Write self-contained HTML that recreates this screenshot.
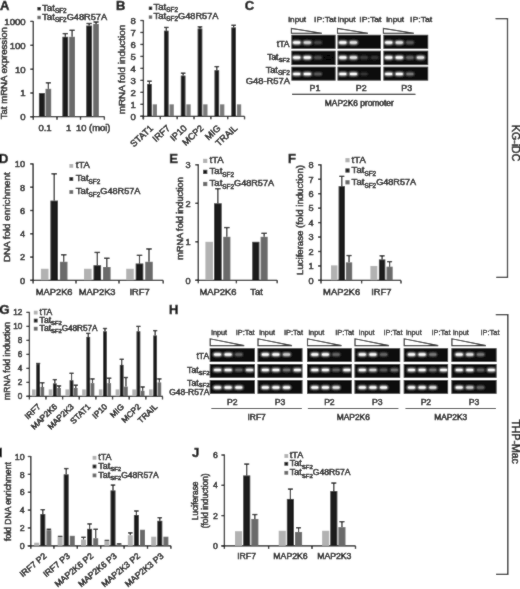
<!DOCTYPE html><html><head><meta charset="utf-8"><style>html,body{margin:0;padding:0;background:#fff;}svg{display:block;will-change:transform;} text{stroke:#111;stroke-width:0.5px;}</style></head><body>
<svg width="520" height="589" viewBox="0 0 520 589" font-family="Liberation Sans, sans-serif">
<defs><filter id="glow" x="-50%" y="-80%" width="200%" height="260%"><feGaussianBlur stdDeviation="0.85"/></filter><filter id="soft" x="0" y="0" width="520" height="589" filterUnits="userSpaceOnUse"><feConvolveMatrix order="3" kernelMatrix="1 2 1 2 24 2 1 2 1" divisor="36" edgeMode="duplicate"/></filter></defs>
<g filter="url(#soft)">
<rect width="520" height="589" fill="#fff"/>
<text x="0.0" y="9.5" font-size="13" text-anchor="start" font-weight="bold" fill="#111">A</text>
<rect x="37.40" y="7.00" width="3.40" height="3.40" fill="#1d1d1d"/>
<text x="42.0" y="10.7" font-size="9.7" text-anchor="start" fill="#111">Tat<tspan font-size="6.4" dy="2.13">SF2</tspan></text>
<rect x="37.40" y="15.80" width="3.40" height="3.40" fill="#6b6b6b"/>
<text x="42.0" y="19.5" font-size="9.7" text-anchor="start" fill="#111">Tat<tspan font-size="6.4" dy="2.13">SF2</tspan><tspan dy="-2.13" font-size="9.21">G48R57A</tspan></text>
<line x1="33.30" y1="20.90" x2="33.30" y2="116.70" stroke="#000" stroke-width="1.3"/>
<line x1="30.30" y1="21.40" x2="33.30" y2="21.40" stroke="#000" stroke-width="1.3"/>
<text x="25.699999999999996" y="24.855999999999998" font-size="9.6" text-anchor="end" fill="#111">1000</text>
<line x1="30.30" y1="45.30" x2="33.30" y2="45.30" stroke="#000" stroke-width="1.3"/>
<text x="25.699999999999996" y="48.756" font-size="9.6" text-anchor="end" fill="#111">100</text>
<line x1="30.30" y1="69.20" x2="33.30" y2="69.20" stroke="#000" stroke-width="1.3"/>
<text x="25.699999999999996" y="72.656" font-size="9.6" text-anchor="end" fill="#111">10</text>
<line x1="30.30" y1="93.00" x2="33.30" y2="93.00" stroke="#000" stroke-width="1.3"/>
<text x="25.699999999999996" y="96.456" font-size="9.6" text-anchor="end" fill="#111">1</text>
<line x1="30.30" y1="116.70" x2="33.30" y2="116.70" stroke="#000" stroke-width="1.3"/>
<text x="25.699999999999996" y="120.156" font-size="9.6" text-anchor="end" fill="#111">0</text>
<line x1="30.30" y1="116.70" x2="104.40" y2="116.70" stroke="#000" stroke-width="1.3"/>
<line x1="33.30" y1="116.70" x2="33.30" y2="119.70" stroke="#000" stroke-width="1.3"/>
<line x1="57.00" y1="116.70" x2="57.00" y2="119.70" stroke="#000" stroke-width="1.3"/>
<line x1="80.50" y1="116.70" x2="80.50" y2="119.70" stroke="#000" stroke-width="1.3"/>
<line x1="104.40" y1="116.70" x2="104.40" y2="119.70" stroke="#000" stroke-width="1.3"/>
<text x="7.3" y="73.2" font-size="9.6" text-anchor="middle" transform="rotate(-90 7.3 73.2)" fill="#111">Tat mRNA expression</text>
<rect x="38.90" y="93.00" width="5.90" height="23.70" fill="#1d1d1d"/>
<line x1="48.35" y1="88.80" x2="48.35" y2="82.80" stroke="#000" stroke-width="1.15"/>
<line x1="45.78" y1="82.80" x2="50.92" y2="82.80" stroke="#000" stroke-width="1.3224999999999998"/>
<rect x="45.50" y="88.80" width="5.70" height="27.90" fill="#6b6b6b"/>
<line x1="65.30" y1="36.80" x2="65.30" y2="33.60" stroke="#000" stroke-width="1.15"/>
<line x1="62.69" y1="33.60" x2="67.91" y2="33.60" stroke="#000" stroke-width="1.3224999999999998"/>
<rect x="62.40" y="36.80" width="5.80" height="79.90" fill="#1d1d1d"/>
<line x1="72.10" y1="36.80" x2="72.10" y2="30.30" stroke="#000" stroke-width="1.15"/>
<line x1="69.49" y1="30.30" x2="74.71" y2="30.30" stroke="#000" stroke-width="1.3224999999999998"/>
<rect x="69.20" y="36.80" width="5.80" height="79.90" fill="#6b6b6b"/>
<line x1="89.15" y1="25.60" x2="89.15" y2="23.50" stroke="#000" stroke-width="1.15"/>
<line x1="86.50" y1="23.50" x2="91.81" y2="23.50" stroke="#000" stroke-width="1.3224999999999998"/>
<rect x="86.20" y="25.60" width="5.90" height="91.10" fill="#1d1d1d"/>
<line x1="96.05" y1="23.90" x2="96.05" y2="22.00" stroke="#000" stroke-width="1.15"/>
<line x1="93.49" y1="22.00" x2="98.62" y2="22.00" stroke="#000" stroke-width="1.3224999999999998"/>
<rect x="93.20" y="23.90" width="5.70" height="92.80" fill="#6b6b6b"/>
<text x="45.0" y="131.4" font-size="9.5" text-anchor="middle" fill="#111">0.1</text>
<text x="68.6" y="131.4" font-size="9.5" text-anchor="middle" fill="#111">1</text>
<text x="76.0" y="131.4" font-size="9.4" text-anchor="start" fill="#111">10 (moi)</text>
<text x="116.0" y="9.5" font-size="13" text-anchor="start" font-weight="bold" fill="#111">B</text>
<rect x="148.80" y="6.60" width="3.40" height="3.40" fill="#1d1d1d"/>
<text x="153.4" y="10.3" font-size="9.7" text-anchor="start" fill="#111">Tat<tspan font-size="6.4" dy="2.13">SF2</tspan></text>
<rect x="148.80" y="15.40" width="3.40" height="3.40" fill="#6b6b6b"/>
<text x="153.4" y="19.1" font-size="9.7" text-anchor="start" fill="#111">Tat<tspan font-size="6.4" dy="2.13">SF2</tspan><tspan dy="-2.13" font-size="9.21">G48R57A</tspan></text>
<line x1="143.40" y1="20.00" x2="143.40" y2="116.30" stroke="#000" stroke-width="1.3"/>
<line x1="140.40" y1="20.50" x2="143.40" y2="20.50" stroke="#000" stroke-width="1.3"/>
<text x="135.8" y="23.956" font-size="9.6" text-anchor="end" fill="#111">8</text>
<line x1="140.40" y1="32.47" x2="143.40" y2="32.47" stroke="#000" stroke-width="1.3"/>
<text x="135.8" y="35.931" font-size="9.6" text-anchor="end" fill="#111">7</text>
<line x1="140.40" y1="44.45" x2="143.40" y2="44.45" stroke="#000" stroke-width="1.3"/>
<text x="135.8" y="47.906000000000006" font-size="9.6" text-anchor="end" fill="#111">6</text>
<line x1="140.40" y1="56.42" x2="143.40" y2="56.42" stroke="#000" stroke-width="1.3"/>
<text x="135.8" y="59.881" font-size="9.6" text-anchor="end" fill="#111">5</text>
<line x1="140.40" y1="68.40" x2="143.40" y2="68.40" stroke="#000" stroke-width="1.3"/>
<text x="135.8" y="71.85600000000001" font-size="9.6" text-anchor="end" fill="#111">4</text>
<line x1="140.40" y1="80.38" x2="143.40" y2="80.38" stroke="#000" stroke-width="1.3"/>
<text x="135.8" y="83.831" font-size="9.6" text-anchor="end" fill="#111">3</text>
<line x1="140.40" y1="92.35" x2="143.40" y2="92.35" stroke="#000" stroke-width="1.3"/>
<text x="135.8" y="95.806" font-size="9.6" text-anchor="end" fill="#111">2</text>
<line x1="140.40" y1="104.33" x2="143.40" y2="104.33" stroke="#000" stroke-width="1.3"/>
<text x="135.8" y="107.781" font-size="9.6" text-anchor="end" fill="#111">1</text>
<line x1="140.40" y1="116.30" x2="143.40" y2="116.30" stroke="#000" stroke-width="1.3"/>
<text x="135.8" y="119.756" font-size="9.6" text-anchor="end" fill="#111">0</text>
<line x1="140.20" y1="116.30" x2="244.50" y2="116.30" stroke="#000" stroke-width="1.3"/>
<line x1="143.20" y1="116.30" x2="143.20" y2="119.30" stroke="#000" stroke-width="1.3"/>
<line x1="143.50" y1="116.30" x2="143.50" y2="119.30" stroke="#000" stroke-width="1.3"/>
<line x1="160.34" y1="116.30" x2="160.34" y2="119.30" stroke="#000" stroke-width="1.3"/>
<line x1="177.18" y1="116.30" x2="177.18" y2="119.30" stroke="#000" stroke-width="1.3"/>
<line x1="194.02" y1="116.30" x2="194.02" y2="119.30" stroke="#000" stroke-width="1.3"/>
<line x1="210.86" y1="116.30" x2="210.86" y2="119.30" stroke="#000" stroke-width="1.3"/>
<line x1="227.70" y1="116.30" x2="227.70" y2="119.30" stroke="#000" stroke-width="1.3"/>
<line x1="244.54" y1="116.30" x2="244.54" y2="119.30" stroke="#000" stroke-width="1.3"/>
<text x="125.3" y="69.5" font-size="9.9" text-anchor="middle" transform="rotate(-90 125.3 69.5)" fill="#111">mRNA fold induction</text>
<line x1="149.45" y1="83.97" x2="149.45" y2="81.21" stroke="#000" stroke-width="1.15"/>
<line x1="147.15" y1="81.21" x2="151.75" y2="81.21" stroke="#000" stroke-width="1.3224999999999998"/>
<rect x="147.10" y="83.97" width="4.70" height="32.33" fill="#1d1d1d"/>
<rect x="152.70" y="104.33" width="4.30" height="11.97" fill="#7a7a7a"/>
<text x="153.79999999999998" y="128.9" font-size="9.2" text-anchor="end" transform="rotate(-43 153.79999999999998 128.9)" fill="#111">STAT1</text>
<line x1="166.29" y1="30.68" x2="166.29" y2="27.45" stroke="#000" stroke-width="1.15"/>
<line x1="163.99" y1="27.45" x2="168.59" y2="27.45" stroke="#000" stroke-width="1.3224999999999998"/>
<rect x="163.94" y="30.68" width="4.70" height="85.62" fill="#1d1d1d"/>
<rect x="169.54" y="104.33" width="4.30" height="11.97" fill="#7a7a7a"/>
<text x="170.64" y="128.9" font-size="9.2" text-anchor="end" transform="rotate(-43 170.64 128.9)" fill="#111">IRF7</text>
<line x1="183.13" y1="75.59" x2="183.13" y2="73.19" stroke="#000" stroke-width="1.15"/>
<line x1="180.83" y1="73.19" x2="185.43" y2="73.19" stroke="#000" stroke-width="1.3224999999999998"/>
<rect x="180.78" y="75.59" width="4.70" height="40.71" fill="#1d1d1d"/>
<rect x="186.38" y="104.33" width="4.30" height="11.97" fill="#7a7a7a"/>
<text x="187.48" y="128.9" font-size="9.2" text-anchor="end" transform="rotate(-43 187.48 128.9)" fill="#111">IP10</text>
<line x1="199.97" y1="28.52" x2="199.97" y2="26.85" stroke="#000" stroke-width="1.15"/>
<line x1="197.67" y1="26.85" x2="202.27" y2="26.85" stroke="#000" stroke-width="1.3224999999999998"/>
<rect x="197.62" y="28.52" width="4.70" height="87.78" fill="#1d1d1d"/>
<rect x="203.22" y="104.33" width="4.30" height="11.97" fill="#7a7a7a"/>
<text x="204.32" y="128.9" font-size="9.2" text-anchor="end" transform="rotate(-43 204.32 128.9)" fill="#111">MCP2</text>
<line x1="216.81" y1="70.20" x2="216.81" y2="66.60" stroke="#000" stroke-width="1.15"/>
<line x1="214.51" y1="66.60" x2="219.11" y2="66.60" stroke="#000" stroke-width="1.3224999999999998"/>
<rect x="214.46" y="70.20" width="4.70" height="46.10" fill="#1d1d1d"/>
<rect x="220.06" y="104.33" width="4.30" height="11.97" fill="#7a7a7a"/>
<text x="221.15999999999997" y="128.9" font-size="9.2" text-anchor="end" transform="rotate(-43 221.15999999999997 128.9)" fill="#111">MIG</text>
<line x1="233.65" y1="27.45" x2="233.65" y2="25.29" stroke="#000" stroke-width="1.15"/>
<line x1="231.35" y1="25.29" x2="235.95" y2="25.29" stroke="#000" stroke-width="1.3224999999999998"/>
<rect x="231.30" y="27.45" width="4.70" height="88.85" fill="#1d1d1d"/>
<rect x="236.90" y="104.33" width="4.30" height="11.97" fill="#7a7a7a"/>
<text x="238.0" y="128.9" font-size="9.2" text-anchor="end" transform="rotate(-43 238.0 128.9)" fill="#111">TRAIL</text>
<text x="244.8" y="9.8" font-size="13" text-anchor="start" font-weight="bold" fill="#111">C</text>
<rect x="291.40" y="34.80" width="44.20" height="14.00" fill="#0b0b0b"/>
<rect x="292.30" y="40.80" width="8.80" height="3.60" rx="1.80" fill="rgb(255,255,255)" filter="url(#glow)"/>
<rect x="293.18" y="41.61" width="7.04" height="1.98" rx="0.99" fill="rgb(255,255,255)" opacity="0.9"/>
<rect x="302.90" y="40.80" width="8.80" height="3.60" rx="1.80" fill="rgb(216,216,216)" filter="url(#glow)"/>
<rect x="303.78" y="41.61" width="7.04" height="1.98" rx="0.99" fill="rgb(216,216,216)" opacity="0.9"/>
<rect x="313.50" y="40.80" width="8.80" height="3.60" rx="1.80" fill="rgb(71,71,71)" filter="url(#glow)"/>
<rect x="314.38" y="41.61" width="7.04" height="1.98" rx="0.99" fill="rgb(71,71,71)" opacity="0.9"/>
<rect x="291.40" y="50.70" width="44.20" height="14.40" fill="#0b0b0b"/>
<rect x="292.30" y="55.80" width="8.80" height="3.60" rx="1.80" fill="rgb(255,255,255)" filter="url(#glow)"/>
<rect x="293.18" y="56.61" width="7.04" height="1.98" rx="0.99" fill="rgb(255,255,255)" opacity="0.9"/>
<rect x="302.90" y="55.80" width="8.80" height="3.60" rx="1.80" fill="rgb(255,255,255)" filter="url(#glow)"/>
<rect x="303.78" y="56.61" width="7.04" height="1.98" rx="0.99" fill="rgb(255,255,255)" opacity="0.9"/>
<rect x="313.50" y="55.80" width="8.80" height="3.60" rx="1.80" fill="rgb(81,81,81)" filter="url(#glow)"/>
<rect x="314.38" y="56.61" width="7.04" height="1.98" rx="0.99" fill="rgb(81,81,81)" opacity="0.9"/>
<rect x="324.10" y="55.80" width="8.80" height="3.60" rx="1.80" fill="rgb(12,12,12)" filter="url(#glow)"/>
<rect x="324.98" y="56.61" width="7.04" height="1.98" rx="0.99" fill="rgb(12,12,12)" opacity="0.9"/>
<rect x="291.40" y="66.70" width="44.20" height="13.90" fill="#0b0b0b"/>
<rect x="292.30" y="72.25" width="8.80" height="3.60" rx="1.80" fill="rgb(255,255,255)" filter="url(#glow)"/>
<rect x="293.18" y="73.06" width="7.04" height="1.98" rx="0.99" fill="rgb(255,255,255)" opacity="0.9"/>
<rect x="302.90" y="72.25" width="8.80" height="3.60" rx="1.80" fill="rgb(255,255,255)" filter="url(#glow)"/>
<rect x="303.78" y="73.06" width="7.04" height="1.98" rx="0.99" fill="rgb(255,255,255)" opacity="0.9"/>
<rect x="313.50" y="72.25" width="8.80" height="3.60" rx="1.80" fill="rgb(91,91,91)" filter="url(#glow)"/>
<rect x="314.38" y="73.06" width="7.04" height="1.98" rx="0.99" fill="rgb(91,91,91)" opacity="0.9"/>
<polygon points="291.40,28.50 291.40,33.20 321.90,33.20" fill="#fff" stroke="#111" stroke-width="1.1" stroke-linejoin="miter"/>
<text x="288.3" y="22.4" font-size="7.6" text-anchor="start" textLength="17.8" lengthAdjust="spacingAndGlyphs" fill="#111" style="stroke-width:0.38px">input</text>
<text x="336.3" y="22.4" font-size="7.6" text-anchor="end" textLength="22.2" lengthAdjust="spacingAndGlyphs" fill="#111" style="stroke-width:0.38px">IP:Tat</text>
<rect x="337.50" y="34.80" width="43.50" height="14.00" fill="#0b0b0b"/>
<rect x="338.40" y="40.80" width="8.80" height="3.60" rx="1.80" fill="rgb(255,255,255)" filter="url(#glow)"/>
<rect x="339.28" y="41.61" width="7.04" height="1.98" rx="0.99" fill="rgb(255,255,255)" opacity="0.9"/>
<rect x="349.00" y="40.80" width="8.80" height="3.60" rx="1.80" fill="rgb(229,229,229)" filter="url(#glow)"/>
<rect x="349.88" y="41.61" width="7.04" height="1.98" rx="0.99" fill="rgb(229,229,229)" opacity="0.9"/>
<rect x="337.50" y="50.70" width="43.50" height="14.40" fill="#0b0b0b"/>
<rect x="338.40" y="55.80" width="8.80" height="3.60" rx="1.80" fill="rgb(255,255,255)" filter="url(#glow)"/>
<rect x="339.28" y="56.61" width="7.04" height="1.98" rx="0.99" fill="rgb(255,255,255)" opacity="0.9"/>
<rect x="349.00" y="55.80" width="8.80" height="3.60" rx="1.80" fill="rgb(229,229,229)" filter="url(#glow)"/>
<rect x="349.88" y="56.61" width="7.04" height="1.98" rx="0.99" fill="rgb(229,229,229)" opacity="0.9"/>
<rect x="359.60" y="55.80" width="8.80" height="3.60" rx="1.80" fill="rgb(61,61,61)" filter="url(#glow)"/>
<rect x="360.48" y="56.61" width="7.04" height="1.98" rx="0.99" fill="rgb(61,61,61)" opacity="0.9"/>
<rect x="370.20" y="55.80" width="8.80" height="3.60" rx="1.80" fill="rgb(51,51,51)" filter="url(#glow)"/>
<rect x="371.08" y="56.61" width="7.04" height="1.98" rx="0.99" fill="rgb(51,51,51)" opacity="0.9"/>
<rect x="337.50" y="66.70" width="43.50" height="13.90" fill="#0b0b0b"/>
<rect x="338.40" y="72.25" width="8.80" height="3.60" rx="1.80" fill="rgb(255,255,255)" filter="url(#glow)"/>
<rect x="339.28" y="73.06" width="7.04" height="1.98" rx="0.99" fill="rgb(255,255,255)" opacity="0.9"/>
<rect x="349.00" y="72.25" width="8.80" height="3.60" rx="1.80" fill="rgb(255,255,255)" filter="url(#glow)"/>
<rect x="349.88" y="73.06" width="7.04" height="1.98" rx="0.99" fill="rgb(255,255,255)" opacity="0.9"/>
<rect x="359.60" y="72.25" width="8.80" height="3.60" rx="1.80" fill="rgb(51,51,51)" filter="url(#glow)"/>
<rect x="360.48" y="73.06" width="7.04" height="1.98" rx="0.99" fill="rgb(51,51,51)" opacity="0.9"/>
<polygon points="337.50,28.50 337.50,33.20 368.00,33.20" fill="#fff" stroke="#111" stroke-width="1.1" stroke-linejoin="miter"/>
<text x="337.8" y="22.4" font-size="7.6" text-anchor="start" textLength="17.8" lengthAdjust="spacingAndGlyphs" fill="#111" style="stroke-width:0.38px">input</text>
<text x="381.5" y="22.4" font-size="7.6" text-anchor="end" textLength="22.2" lengthAdjust="spacingAndGlyphs" fill="#111" style="stroke-width:0.38px">IP:Tat</text>
<rect x="383.40" y="34.80" width="44.80" height="14.00" fill="#0b0b0b"/>
<rect x="384.30" y="40.80" width="8.80" height="3.60" rx="1.80" fill="rgb(255,255,255)" filter="url(#glow)"/>
<rect x="385.18" y="41.61" width="7.04" height="1.98" rx="0.99" fill="rgb(255,255,255)" opacity="0.9"/>
<rect x="394.90" y="40.80" width="8.80" height="3.60" rx="1.80" fill="rgb(229,229,229)" filter="url(#glow)"/>
<rect x="395.78" y="41.61" width="7.04" height="1.98" rx="0.99" fill="rgb(229,229,229)" opacity="0.9"/>
<rect x="405.50" y="40.80" width="8.80" height="3.60" rx="1.80" fill="rgb(91,91,91)" filter="url(#glow)"/>
<rect x="406.38" y="41.61" width="7.04" height="1.98" rx="0.99" fill="rgb(91,91,91)" opacity="0.9"/>
<rect x="383.40" y="50.70" width="44.80" height="14.40" fill="#0b0b0b"/>
<rect x="384.30" y="55.80" width="8.80" height="3.60" rx="1.80" fill="rgb(255,255,255)" filter="url(#glow)"/>
<rect x="385.18" y="56.61" width="7.04" height="1.98" rx="0.99" fill="rgb(255,255,255)" opacity="0.9"/>
<rect x="394.90" y="55.80" width="8.80" height="3.60" rx="1.80" fill="rgb(255,255,255)" filter="url(#glow)"/>
<rect x="395.78" y="56.61" width="7.04" height="1.98" rx="0.99" fill="rgb(255,255,255)" opacity="0.9"/>
<rect x="405.50" y="55.80" width="8.80" height="3.60" rx="1.80" fill="rgb(102,102,102)" filter="url(#glow)"/>
<rect x="406.38" y="56.61" width="7.04" height="1.98" rx="0.99" fill="rgb(102,102,102)" opacity="0.9"/>
<rect x="416.10" y="55.80" width="8.80" height="3.60" rx="1.80" fill="rgb(229,229,229)" filter="url(#glow)"/>
<rect x="416.98" y="56.61" width="7.04" height="1.98" rx="0.99" fill="rgb(229,229,229)" opacity="0.9"/>
<rect x="383.40" y="66.70" width="44.80" height="13.90" fill="#0b0b0b"/>
<rect x="384.30" y="72.25" width="8.80" height="3.60" rx="1.80" fill="rgb(255,255,255)" filter="url(#glow)"/>
<rect x="385.18" y="73.06" width="7.04" height="1.98" rx="0.99" fill="rgb(255,255,255)" opacity="0.9"/>
<rect x="394.90" y="72.25" width="8.80" height="3.60" rx="1.80" fill="rgb(255,255,255)" filter="url(#glow)"/>
<rect x="395.78" y="73.06" width="7.04" height="1.98" rx="0.99" fill="rgb(255,255,255)" opacity="0.9"/>
<rect x="405.50" y="72.25" width="8.80" height="3.60" rx="1.80" fill="rgb(122,122,122)" filter="url(#glow)"/>
<rect x="406.38" y="73.06" width="7.04" height="1.98" rx="0.99" fill="rgb(122,122,122)" opacity="0.9"/>
<polygon points="383.40,28.50 383.40,33.20 413.90,33.20" fill="#fff" stroke="#111" stroke-width="1.1" stroke-linejoin="miter"/>
<text x="386.3" y="22.4" font-size="7.6" text-anchor="start" textLength="17.8" lengthAdjust="spacingAndGlyphs" fill="#111" style="stroke-width:0.38px">input</text>
<text x="432.3" y="22.4" font-size="7.6" text-anchor="end" textLength="22.2" lengthAdjust="spacingAndGlyphs" fill="#111" style="stroke-width:0.38px">IP:Tat</text>
<text x="315.0" y="91.0" font-size="8.8" text-anchor="middle" fill="#111">P1</text>
<text x="361.2" y="91.0" font-size="8.8" text-anchor="middle" fill="#111">P2</text>
<text x="406.7" y="91.0" font-size="8.8" text-anchor="middle" fill="#111">P3</text>
<line x1="292.00" y1="94.40" x2="415.40" y2="94.40" stroke="#000" stroke-width="1.1"/>
<text x="359.3" y="105.9" font-size="8.2" text-anchor="middle" textLength="69.0" lengthAdjust="spacingAndGlyphs" fill="#111">MAP2K6 promoter</text>
<text x="289.6" y="46.6" font-size="8.6" text-anchor="end" fill="#111">tTA</text>
<text x="289.8" y="59.5" font-size="8.4" text-anchor="end" fill="#111">Tat<tspan font-size="6.2" dy="2.02">SF2</tspan></text>
<text x="290.0" y="72.5" font-size="9.2" text-anchor="end" fill="#111">Tat<tspan font-size="6.6" dy="2.21">SF2</tspan></text>
<text x="290.0" y="83.7" font-size="9.4" text-anchor="end" fill="#111">G48-R57A</text>
<text x="-0.9" y="162.6" font-size="13" text-anchor="start" font-weight="bold" fill="#111">D</text>
<line x1="33.10" y1="163.40" x2="33.10" y2="280.40" stroke="#000" stroke-width="1.3"/>
<line x1="30.10" y1="163.90" x2="33.10" y2="163.90" stroke="#000" stroke-width="1.3"/>
<text x="25.1" y="167.212" font-size="9.2" text-anchor="end" fill="#111">10</text>
<line x1="30.10" y1="187.20" x2="33.10" y2="187.20" stroke="#000" stroke-width="1.3"/>
<text x="25.1" y="190.512" font-size="9.2" text-anchor="end" fill="#111">8</text>
<line x1="30.10" y1="210.50" x2="33.10" y2="210.50" stroke="#000" stroke-width="1.3"/>
<text x="25.1" y="213.81199999999998" font-size="9.2" text-anchor="end" fill="#111">6</text>
<line x1="30.10" y1="233.80" x2="33.10" y2="233.80" stroke="#000" stroke-width="1.3"/>
<text x="25.1" y="237.112" font-size="9.2" text-anchor="end" fill="#111">4</text>
<line x1="30.10" y1="257.10" x2="33.10" y2="257.10" stroke="#000" stroke-width="1.3"/>
<text x="25.1" y="260.412" font-size="9.2" text-anchor="end" fill="#111">2</text>
<line x1="30.10" y1="280.40" x2="33.10" y2="280.40" stroke="#000" stroke-width="1.3"/>
<text x="25.1" y="283.712" font-size="9.2" text-anchor="end" fill="#111">0</text>
<line x1="30.10" y1="280.40" x2="163.20" y2="280.40" stroke="#000" stroke-width="1.3"/>
<line x1="33.10" y1="280.40" x2="33.10" y2="283.40" stroke="#000" stroke-width="1.3"/>
<line x1="76.00" y1="280.40" x2="76.00" y2="283.40" stroke="#000" stroke-width="1.3"/>
<line x1="119.00" y1="280.40" x2="119.00" y2="283.40" stroke="#000" stroke-width="1.3"/>
<line x1="163.20" y1="280.40" x2="163.20" y2="283.40" stroke="#000" stroke-width="1.3"/>
<text x="9.9" y="217.2" font-size="9.8" text-anchor="middle" transform="rotate(-90 9.9 217.2)" fill="#111">DNA fold enrichment</text>
<rect x="40.90" y="268.75" width="7.60" height="11.65" fill="#b2b2b2"/>
<line x1="54.20" y1="200.60" x2="54.20" y2="173.80" stroke="#000" stroke-width="1.15"/>
<line x1="51.45" y1="173.80" x2="56.95" y2="173.80" stroke="#000" stroke-width="1.3224999999999998"/>
<rect x="50.40" y="200.60" width="7.60" height="79.80" fill="#1d1d1d"/>
<line x1="63.70" y1="261.76" x2="63.70" y2="254.77" stroke="#000" stroke-width="1.15"/>
<line x1="60.95" y1="254.77" x2="66.45" y2="254.77" stroke="#000" stroke-width="1.3224999999999998"/>
<rect x="59.90" y="261.76" width="7.60" height="18.64" fill="#6b6b6b"/>
<rect x="84.00" y="268.75" width="7.60" height="11.65" fill="#b2b2b2"/>
<line x1="97.30" y1="265.25" x2="97.30" y2="252.44" stroke="#000" stroke-width="1.15"/>
<line x1="94.55" y1="252.44" x2="100.05" y2="252.44" stroke="#000" stroke-width="1.3224999999999998"/>
<rect x="93.50" y="265.25" width="7.60" height="15.14" fill="#1d1d1d"/>
<line x1="106.80" y1="267.00" x2="106.80" y2="258.26" stroke="#000" stroke-width="1.15"/>
<line x1="104.05" y1="258.26" x2="109.55" y2="258.26" stroke="#000" stroke-width="1.3224999999999998"/>
<rect x="103.00" y="267.00" width="7.60" height="13.40" fill="#6b6b6b"/>
<rect x="126.20" y="268.75" width="7.60" height="11.65" fill="#b2b2b2"/>
<line x1="139.50" y1="263.51" x2="139.50" y2="255.35" stroke="#000" stroke-width="1.15"/>
<line x1="136.75" y1="255.35" x2="142.25" y2="255.35" stroke="#000" stroke-width="1.3224999999999998"/>
<rect x="135.70" y="263.51" width="7.60" height="16.89" fill="#1d1d1d"/>
<line x1="149.00" y1="261.76" x2="149.00" y2="248.94" stroke="#000" stroke-width="1.15"/>
<line x1="146.25" y1="248.94" x2="151.75" y2="248.94" stroke="#000" stroke-width="1.3224999999999998"/>
<rect x="145.20" y="261.76" width="7.60" height="18.64" fill="#6b6b6b"/>
<text x="54.2" y="294.6" font-size="9.3" text-anchor="middle" fill="#111">MAP2K6</text>
<text x="97.2" y="294.6" font-size="9.3" text-anchor="middle" fill="#111">MAP2K3</text>
<text x="139.6" y="294.6" font-size="9.3" text-anchor="middle" fill="#111">IRF7</text>
<rect x="69.40" y="164.00" width="3.80" height="3.80" fill="#b2b2b2"/>
<text x="75.8" y="168.1" font-size="9.6" text-anchor="start" fill="#111">tTA</text>
<rect x="69.40" y="177.10" width="3.80" height="3.80" fill="#1d1d1d"/>
<text x="75.8" y="181.2" font-size="9.6" text-anchor="start" fill="#111">Tat<tspan font-size="6.4" dy="2.88">SF2</tspan></text>
<rect x="69.40" y="190.10" width="3.80" height="3.80" fill="#6b6b6b"/>
<text x="75.8" y="194.2" font-size="9.6" text-anchor="start" fill="#111">Tat<tspan font-size="6.4" dy="2.88">SF2</tspan><tspan dy="-2.88" font-size="9.12">G48R57A</tspan></text>
<text x="169.3" y="163.2" font-size="13" text-anchor="start" font-weight="bold" fill="#111">E</text>
<line x1="198.30" y1="164.30" x2="198.30" y2="280.30" stroke="#000" stroke-width="1.3"/>
<line x1="195.30" y1="164.80" x2="198.30" y2="164.80" stroke="#000" stroke-width="1.3"/>
<text x="190.60000000000002" y="168.11200000000002" font-size="9.2" text-anchor="end" fill="#111">3</text>
<line x1="195.30" y1="203.30" x2="198.30" y2="203.30" stroke="#000" stroke-width="1.3"/>
<text x="190.60000000000002" y="206.61200000000002" font-size="9.2" text-anchor="end" fill="#111">2</text>
<line x1="195.30" y1="241.80" x2="198.30" y2="241.80" stroke="#000" stroke-width="1.3"/>
<text x="190.60000000000002" y="245.11200000000002" font-size="9.2" text-anchor="end" fill="#111">1</text>
<line x1="195.30" y1="280.30" x2="198.30" y2="280.30" stroke="#000" stroke-width="1.3"/>
<text x="190.60000000000002" y="283.612" font-size="9.2" text-anchor="end" fill="#111">0</text>
<line x1="195.30" y1="280.30" x2="277.20" y2="280.30" stroke="#000" stroke-width="1.3"/>
<line x1="198.30" y1="280.30" x2="198.30" y2="283.30" stroke="#000" stroke-width="1.3"/>
<line x1="236.40" y1="280.30" x2="236.40" y2="283.30" stroke="#000" stroke-width="1.3"/>
<line x1="277.20" y1="280.30" x2="277.20" y2="283.30" stroke="#000" stroke-width="1.3"/>
<text x="183.4" y="218.5" font-size="9.1" text-anchor="middle" transform="rotate(-90 183.4 218.5)" fill="#111">mRNA fold induction</text>
<rect x="205.40" y="241.80" width="7.60" height="38.50" fill="#b2b2b2"/>
<line x1="217.85" y1="203.30" x2="217.85" y2="188.67" stroke="#000" stroke-width="1.15"/>
<line x1="215.10" y1="188.67" x2="220.60" y2="188.67" stroke="#000" stroke-width="1.3224999999999998"/>
<rect x="214.00" y="203.30" width="7.70" height="77.00" fill="#1d1d1d"/>
<line x1="226.80" y1="236.80" x2="226.80" y2="227.56" stroke="#000" stroke-width="1.15"/>
<line x1="224.05" y1="227.56" x2="229.55" y2="227.56" stroke="#000" stroke-width="1.3224999999999998"/>
<rect x="223.20" y="236.80" width="7.20" height="43.50" fill="#6b6b6b"/>
<rect x="252.20" y="241.80" width="7.20" height="38.50" fill="#1d1d1d"/>
<line x1="264.15" y1="236.80" x2="264.15" y2="233.33" stroke="#000" stroke-width="1.15"/>
<line x1="261.40" y1="233.33" x2="266.90" y2="233.33" stroke="#000" stroke-width="1.3224999999999998"/>
<rect x="260.60" y="236.80" width="7.10" height="43.50" fill="#6b6b6b"/>
<text x="217.9" y="294.8" font-size="9.4" text-anchor="middle" fill="#111">MAP2K6</text>
<text x="256.5" y="294.8" font-size="9.4" text-anchor="middle" fill="#111">Tat</text>
<rect x="203.10" y="158.80" width="4.20" height="4.20" fill="#b2b2b2"/>
<text x="209.49999999999997" y="163.3" font-size="9.6" text-anchor="start" fill="#111">tTA</text>
<rect x="203.10" y="169.80" width="4.20" height="4.20" fill="#1d1d1d"/>
<text x="209.49999999999997" y="174.3" font-size="9.6" text-anchor="start" fill="#111">Tat<tspan font-size="6.4" dy="2.88">SF2</tspan></text>
<rect x="203.10" y="181.90" width="4.20" height="4.20" fill="#6b6b6b"/>
<text x="209.49999999999997" y="186.4" font-size="9.6" text-anchor="start" fill="#111">Tat<tspan font-size="6.4" dy="2.88">SF2</tspan><tspan dy="-2.88" font-size="9.12">G48R57A</tspan></text>
<text x="287.9" y="162.6" font-size="13" text-anchor="start" font-weight="bold" fill="#111">F</text>
<line x1="321.00" y1="164.30" x2="321.00" y2="280.40" stroke="#000" stroke-width="1.3"/>
<line x1="318.00" y1="164.80" x2="321.00" y2="164.80" stroke="#000" stroke-width="1.3"/>
<text x="313.7" y="168.112" font-size="9.2" text-anchor="end" fill="#111">8</text>
<line x1="318.00" y1="179.25" x2="321.00" y2="179.25" stroke="#000" stroke-width="1.3"/>
<text x="313.7" y="182.562" font-size="9.2" text-anchor="end" fill="#111">7</text>
<line x1="318.00" y1="193.70" x2="321.00" y2="193.70" stroke="#000" stroke-width="1.3"/>
<text x="313.7" y="197.012" font-size="9.2" text-anchor="end" fill="#111">6</text>
<line x1="318.00" y1="208.15" x2="321.00" y2="208.15" stroke="#000" stroke-width="1.3"/>
<text x="313.7" y="211.462" font-size="9.2" text-anchor="end" fill="#111">5</text>
<line x1="318.00" y1="222.60" x2="321.00" y2="222.60" stroke="#000" stroke-width="1.3"/>
<text x="313.7" y="225.91199999999998" font-size="9.2" text-anchor="end" fill="#111">4</text>
<line x1="318.00" y1="237.05" x2="321.00" y2="237.05" stroke="#000" stroke-width="1.3"/>
<text x="313.7" y="240.362" font-size="9.2" text-anchor="end" fill="#111">3</text>
<line x1="318.00" y1="251.50" x2="321.00" y2="251.50" stroke="#000" stroke-width="1.3"/>
<text x="313.7" y="254.81199999999998" font-size="9.2" text-anchor="end" fill="#111">2</text>
<line x1="318.00" y1="265.95" x2="321.00" y2="265.95" stroke="#000" stroke-width="1.3"/>
<text x="313.7" y="269.262" font-size="9.2" text-anchor="end" fill="#111">1</text>
<line x1="318.00" y1="280.40" x2="321.00" y2="280.40" stroke="#000" stroke-width="1.3"/>
<text x="313.7" y="283.712" font-size="9.2" text-anchor="end" fill="#111">0</text>
<line x1="318.00" y1="280.40" x2="401.00" y2="280.40" stroke="#000" stroke-width="1.3"/>
<line x1="321.00" y1="280.40" x2="321.00" y2="283.40" stroke="#000" stroke-width="1.3"/>
<line x1="361.60" y1="280.40" x2="361.60" y2="283.40" stroke="#000" stroke-width="1.3"/>
<line x1="401.00" y1="280.40" x2="401.00" y2="283.40" stroke="#000" stroke-width="1.3"/>
<text x="303.0" y="220" font-size="9.6" text-anchor="middle" transform="rotate(-90 303.0 220)" fill="#111">Luciferase (fold induction)</text>
<rect x="331.00" y="265.37" width="6.40" height="15.03" fill="#b2b2b2"/>
<line x1="341.80" y1="186.19" x2="341.80" y2="176.36" stroke="#000" stroke-width="1.15"/>
<line x1="339.30" y1="176.36" x2="344.30" y2="176.36" stroke="#000" stroke-width="1.3224999999999998"/>
<rect x="338.60" y="186.19" width="6.40" height="94.21" fill="#1d1d1d"/>
<line x1="349.05" y1="262.34" x2="349.05" y2="255.55" stroke="#000" stroke-width="1.15"/>
<line x1="346.55" y1="255.55" x2="351.55" y2="255.55" stroke="#000" stroke-width="1.3224999999999998"/>
<rect x="345.90" y="262.34" width="6.30" height="18.06" fill="#6b6b6b"/>
<rect x="370.40" y="265.95" width="6.90" height="14.45" fill="#b2b2b2"/>
<line x1="382.10" y1="259.45" x2="382.10" y2="255.83" stroke="#000" stroke-width="1.15"/>
<line x1="379.60" y1="255.83" x2="384.60" y2="255.83" stroke="#000" stroke-width="1.3224999999999998"/>
<rect x="378.90" y="259.45" width="6.40" height="20.95" fill="#1d1d1d"/>
<line x1="389.60" y1="266.67" x2="389.60" y2="261.61" stroke="#000" stroke-width="1.15"/>
<line x1="387.10" y1="261.61" x2="392.10" y2="261.61" stroke="#000" stroke-width="1.3224999999999998"/>
<rect x="386.50" y="266.67" width="6.20" height="13.73" fill="#6b6b6b"/>
<text x="341.6" y="294.8" font-size="9.4" text-anchor="middle" fill="#111">MAP2K6</text>
<text x="381.3" y="294.8" font-size="9.4" text-anchor="middle" fill="#111">IRF7</text>
<rect x="345.40" y="158.10" width="4.20" height="4.20" fill="#b2b2b2"/>
<text x="351.59999999999997" y="162.6" font-size="9.6" text-anchor="start" fill="#111">tTA</text>
<rect x="345.40" y="168.40" width="4.20" height="4.20" fill="#1d1d1d"/>
<text x="351.59999999999997" y="172.9" font-size="9.6" text-anchor="start" fill="#111">Tat<tspan font-size="6.4" dy="2.88">SF2</tspan></text>
<rect x="345.40" y="180.20" width="4.20" height="4.20" fill="#6b6b6b"/>
<text x="351.59999999999997" y="184.7" font-size="9.6" text-anchor="start" fill="#111">Tat<tspan font-size="6.4" dy="2.88">SF2</tspan><tspan dy="-2.88" font-size="9.12">G48R57A</tspan></text>
<text x="-0.6" y="313.8" font-size="13" text-anchor="start" font-weight="bold" fill="#111">G</text>
<line x1="29.40" y1="311.90" x2="29.40" y2="396.40" stroke="#000" stroke-width="1.3"/>
<line x1="26.40" y1="312.40" x2="29.40" y2="312.40" stroke="#000" stroke-width="1.3"/>
<text x="22.4" y="315.352" font-size="8.2" text-anchor="end" fill="#111">12</text>
<line x1="26.40" y1="326.40" x2="29.40" y2="326.40" stroke="#000" stroke-width="1.3"/>
<text x="22.4" y="329.352" font-size="8.2" text-anchor="end" fill="#111">10</text>
<line x1="26.40" y1="340.40" x2="29.40" y2="340.40" stroke="#000" stroke-width="1.3"/>
<text x="22.4" y="343.352" font-size="8.2" text-anchor="end" fill="#111">8</text>
<line x1="26.40" y1="354.40" x2="29.40" y2="354.40" stroke="#000" stroke-width="1.3"/>
<text x="22.4" y="357.352" font-size="8.2" text-anchor="end" fill="#111">6</text>
<line x1="26.40" y1="368.40" x2="29.40" y2="368.40" stroke="#000" stroke-width="1.3"/>
<text x="22.4" y="371.352" font-size="8.2" text-anchor="end" fill="#111">4</text>
<line x1="26.40" y1="382.40" x2="29.40" y2="382.40" stroke="#000" stroke-width="1.3"/>
<text x="22.4" y="385.352" font-size="8.2" text-anchor="end" fill="#111">2</text>
<line x1="26.40" y1="396.40" x2="29.40" y2="396.40" stroke="#000" stroke-width="1.3"/>
<text x="22.4" y="399.352" font-size="8.2" text-anchor="end" fill="#111">0</text>
<line x1="26.40" y1="396.40" x2="163.00" y2="396.40" stroke="#000" stroke-width="1.3"/>
<line x1="29.40" y1="396.40" x2="29.40" y2="399.40" stroke="#000" stroke-width="1.3"/>
<line x1="45.95" y1="396.40" x2="45.95" y2="399.40" stroke="#000" stroke-width="1.3"/>
<line x1="62.60" y1="396.40" x2="62.60" y2="399.40" stroke="#000" stroke-width="1.3"/>
<line x1="79.25" y1="396.40" x2="79.25" y2="399.40" stroke="#000" stroke-width="1.3"/>
<line x1="95.90" y1="396.40" x2="95.90" y2="399.40" stroke="#000" stroke-width="1.3"/>
<line x1="112.55" y1="396.40" x2="112.55" y2="399.40" stroke="#000" stroke-width="1.3"/>
<line x1="129.20" y1="396.40" x2="129.20" y2="399.40" stroke="#000" stroke-width="1.3"/>
<line x1="145.85" y1="396.40" x2="145.85" y2="399.40" stroke="#000" stroke-width="1.3"/>
<line x1="162.50" y1="396.40" x2="162.50" y2="399.40" stroke="#000" stroke-width="1.3"/>
<text x="10.2" y="361" font-size="8.6" text-anchor="middle" transform="rotate(-90 10.2 361)" fill="#111">mRNA fold induction</text>
<rect x="32.00" y="389.40" width="3.60" height="7.00" fill="#b2b2b2"/>
<line x1="38.10" y1="364.20" x2="38.10" y2="363.50" stroke="#000" stroke-width="1.15"/>
<line x1="36.00" y1="363.50" x2="40.20" y2="363.50" stroke="#000" stroke-width="1.3224999999999998"/>
<rect x="36.20" y="364.20" width="3.80" height="32.20" fill="#1d1d1d"/>
<line x1="42.35" y1="386.95" x2="42.35" y2="382.75" stroke="#000" stroke-width="1.15"/>
<line x1="40.25" y1="382.75" x2="44.45" y2="382.75" stroke="#000" stroke-width="1.3224999999999998"/>
<rect x="40.50" y="386.95" width="3.70" height="9.45" fill="#6b6b6b"/>
<text x="41.0" y="407.3" font-size="8.3" text-anchor="end" transform="rotate(-44 41.0 407.3)" fill="#111">IRF7</text>
<rect x="48.72" y="389.40" width="3.60" height="7.00" fill="#b2b2b2"/>
<line x1="54.82" y1="383.45" x2="54.82" y2="379.60" stroke="#000" stroke-width="1.15"/>
<line x1="52.72" y1="379.60" x2="56.92" y2="379.60" stroke="#000" stroke-width="1.3224999999999998"/>
<rect x="52.92" y="383.45" width="3.80" height="12.95" fill="#1d1d1d"/>
<line x1="59.07" y1="388.00" x2="59.07" y2="385.90" stroke="#000" stroke-width="1.15"/>
<line x1="56.97" y1="385.90" x2="61.17" y2="385.90" stroke="#000" stroke-width="1.3224999999999998"/>
<rect x="57.22" y="388.00" width="3.70" height="8.40" fill="#6b6b6b"/>
<text x="57.72" y="407.3" font-size="8.3" text-anchor="end" transform="rotate(-44 57.72 407.3)" fill="#111">MAP2K6</text>
<rect x="65.44" y="389.40" width="3.60" height="7.00" fill="#b2b2b2"/>
<line x1="71.54" y1="380.30" x2="71.54" y2="373.30" stroke="#000" stroke-width="1.15"/>
<line x1="69.44" y1="373.30" x2="73.64" y2="373.30" stroke="#000" stroke-width="1.3224999999999998"/>
<rect x="69.64" y="380.30" width="3.80" height="16.10" fill="#1d1d1d"/>
<line x1="75.79" y1="388.00" x2="75.79" y2="385.20" stroke="#000" stroke-width="1.15"/>
<line x1="73.69" y1="385.20" x2="77.89" y2="385.20" stroke="#000" stroke-width="1.3224999999999998"/>
<rect x="73.94" y="388.00" width="3.70" height="8.40" fill="#6b6b6b"/>
<text x="74.44" y="407.3" font-size="8.3" text-anchor="end" transform="rotate(-44 74.44 407.3)" fill="#111">MAP2K3</text>
<rect x="82.16" y="389.40" width="3.60" height="7.00" fill="#b2b2b2"/>
<line x1="88.26" y1="336.90" x2="88.26" y2="333.40" stroke="#000" stroke-width="1.15"/>
<line x1="86.16" y1="333.40" x2="90.36" y2="333.40" stroke="#000" stroke-width="1.3224999999999998"/>
<rect x="86.36" y="336.90" width="3.80" height="59.50" fill="#1d1d1d"/>
<line x1="92.51" y1="383.10" x2="92.51" y2="378.90" stroke="#000" stroke-width="1.15"/>
<line x1="90.41" y1="378.90" x2="94.61" y2="378.90" stroke="#000" stroke-width="1.3224999999999998"/>
<rect x="90.66" y="383.10" width="3.70" height="13.30" fill="#6b6b6b"/>
<text x="91.16" y="407.3" font-size="8.3" text-anchor="end" transform="rotate(-44 91.16 407.3)" fill="#111">STAT1</text>
<rect x="98.88" y="389.40" width="3.60" height="7.00" fill="#b2b2b2"/>
<line x1="104.98" y1="331.30" x2="104.98" y2="328.50" stroke="#000" stroke-width="1.15"/>
<line x1="102.88" y1="328.50" x2="107.08" y2="328.50" stroke="#000" stroke-width="1.3224999999999998"/>
<rect x="103.08" y="331.30" width="3.80" height="65.10" fill="#1d1d1d"/>
<line x1="109.23" y1="383.10" x2="109.23" y2="378.20" stroke="#000" stroke-width="1.15"/>
<line x1="107.13" y1="378.20" x2="111.33" y2="378.20" stroke="#000" stroke-width="1.3224999999999998"/>
<rect x="107.38" y="383.10" width="3.70" height="13.30" fill="#6b6b6b"/>
<text x="107.88" y="407.3" font-size="8.3" text-anchor="end" transform="rotate(-44 107.88 407.3)" fill="#111">IP10</text>
<rect x="115.60" y="389.40" width="3.60" height="7.00" fill="#b2b2b2"/>
<line x1="121.70" y1="364.90" x2="121.70" y2="359.30" stroke="#000" stroke-width="1.15"/>
<line x1="119.60" y1="359.30" x2="123.80" y2="359.30" stroke="#000" stroke-width="1.3224999999999998"/>
<rect x="119.80" y="364.90" width="3.80" height="31.50" fill="#1d1d1d"/>
<line x1="125.95" y1="386.60" x2="125.95" y2="377.50" stroke="#000" stroke-width="1.15"/>
<line x1="123.85" y1="377.50" x2="128.05" y2="377.50" stroke="#000" stroke-width="1.3224999999999998"/>
<rect x="124.10" y="386.60" width="3.70" height="9.80" fill="#6b6b6b"/>
<text x="124.6" y="407.3" font-size="8.3" text-anchor="end" transform="rotate(-44 124.6 407.3)" fill="#111">MIG</text>
<rect x="132.32" y="389.40" width="3.60" height="7.00" fill="#b2b2b2"/>
<line x1="138.42" y1="331.30" x2="138.42" y2="326.40" stroke="#000" stroke-width="1.15"/>
<line x1="136.32" y1="326.40" x2="140.52" y2="326.40" stroke="#000" stroke-width="1.3224999999999998"/>
<rect x="136.52" y="331.30" width="3.80" height="65.10" fill="#1d1d1d"/>
<line x1="142.67" y1="390.80" x2="142.67" y2="386.95" stroke="#000" stroke-width="1.15"/>
<line x1="140.57" y1="386.95" x2="144.77" y2="386.95" stroke="#000" stroke-width="1.3224999999999998"/>
<rect x="140.82" y="390.80" width="3.70" height="5.60" fill="#6b6b6b"/>
<text x="141.32" y="407.3" font-size="8.3" text-anchor="end" transform="rotate(-44 141.32 407.3)" fill="#111">MCP2</text>
<rect x="149.04" y="389.40" width="3.60" height="7.00" fill="#b2b2b2"/>
<line x1="155.14" y1="335.50" x2="155.14" y2="330.60" stroke="#000" stroke-width="1.15"/>
<line x1="153.04" y1="330.60" x2="157.24" y2="330.60" stroke="#000" stroke-width="1.3224999999999998"/>
<rect x="153.24" y="335.50" width="3.80" height="60.90" fill="#1d1d1d"/>
<line x1="159.39" y1="382.40" x2="159.39" y2="378.90" stroke="#000" stroke-width="1.15"/>
<line x1="157.29" y1="378.90" x2="161.49" y2="378.90" stroke="#000" stroke-width="1.3224999999999998"/>
<rect x="157.54" y="382.40" width="3.70" height="14.00" fill="#6b6b6b"/>
<text x="158.04" y="407.3" font-size="8.3" text-anchor="end" transform="rotate(-44 158.04 407.3)" fill="#111">TRAIL</text>
<rect x="33.80" y="310.70" width="3.80" height="3.80" fill="#b2b2b2"/>
<text x="39.599999999999994" y="314.8" font-size="8.6" text-anchor="start" fill="#111">tTA</text>
<rect x="33.80" y="318.70" width="3.80" height="3.80" fill="#1d1d1d"/>
<text x="39.599999999999994" y="322.8" font-size="8.6" text-anchor="start" fill="#111">Tat<tspan font-size="5.8" dy="2.58">SF2</tspan></text>
<rect x="33.80" y="326.80" width="3.80" height="3.80" fill="#6b6b6b"/>
<text x="39.599999999999994" y="330.9" font-size="8.6" text-anchor="start" fill="#111">Tat<tspan font-size="5.8" dy="2.58">SF2</tspan><tspan dy="-2.58" font-size="8.17">G48R57A</tspan></text>
<text x="169.0" y="313.9" font-size="13" text-anchor="start" font-weight="bold" fill="#111">H</text>
<rect x="209.70" y="348.20" width="45.20" height="13.70" fill="#0b0b0b"/>
<rect x="213.20" y="352.70" width="8.60" height="3.50" rx="1.75" fill="rgb(255,255,255)" filter="url(#glow)"/>
<rect x="214.06" y="353.49" width="6.88" height="1.93" rx="0.96" fill="rgb(255,255,255)" opacity="0.9"/>
<rect x="223.80" y="352.70" width="8.60" height="3.50" rx="1.75" fill="rgb(255,255,255)" filter="url(#glow)"/>
<rect x="224.66" y="353.49" width="6.88" height="1.93" rx="0.96" fill="rgb(255,255,255)" opacity="0.9"/>
<rect x="234.50" y="352.70" width="8.60" height="3.50" rx="1.75" fill="rgb(102,102,102)" filter="url(#glow)"/>
<rect x="235.36" y="353.49" width="6.88" height="1.93" rx="0.96" fill="rgb(102,102,102)" opacity="0.9"/>
<rect x="209.70" y="364.00" width="45.20" height="13.80" fill="#0b0b0b"/>
<rect x="213.20" y="368.15" width="8.60" height="3.50" rx="1.75" fill="rgb(255,255,255)" filter="url(#glow)"/>
<rect x="214.06" y="368.94" width="6.88" height="1.93" rx="0.96" fill="rgb(255,255,255)" opacity="0.9"/>
<rect x="223.80" y="368.15" width="8.60" height="3.50" rx="1.75" fill="rgb(255,255,255)" filter="url(#glow)"/>
<rect x="224.66" y="368.94" width="6.88" height="1.93" rx="0.96" fill="rgb(255,255,255)" opacity="0.9"/>
<rect x="234.50" y="368.15" width="8.60" height="3.50" rx="1.75" fill="rgb(102,102,102)" filter="url(#glow)"/>
<rect x="235.36" y="368.94" width="6.88" height="1.93" rx="0.96" fill="rgb(102,102,102)" opacity="0.9"/>
<rect x="245.30" y="368.15" width="8.60" height="3.50" rx="1.75" fill="rgb(242,242,242)" filter="url(#glow)"/>
<rect x="246.16" y="368.94" width="6.88" height="1.93" rx="0.96" fill="rgb(242,242,242)" opacity="0.9"/>
<rect x="209.70" y="380.00" width="45.20" height="13.80" fill="#0b0b0b"/>
<rect x="213.20" y="385.75" width="8.60" height="3.50" rx="1.75" fill="rgb(255,255,255)" filter="url(#glow)"/>
<rect x="214.06" y="386.54" width="6.88" height="1.93" rx="0.96" fill="rgb(255,255,255)" opacity="0.9"/>
<rect x="223.80" y="385.75" width="8.60" height="3.50" rx="1.75" fill="rgb(255,255,255)" filter="url(#glow)"/>
<rect x="224.66" y="386.54" width="6.88" height="1.93" rx="0.96" fill="rgb(255,255,255)" opacity="0.9"/>
<rect x="234.50" y="385.75" width="8.60" height="3.50" rx="1.75" fill="rgb(255,255,255)" filter="url(#glow)"/>
<rect x="235.36" y="386.54" width="6.88" height="1.93" rx="0.96" fill="rgb(255,255,255)" opacity="0.9"/>
<polygon points="210.20,338.80 210.20,345.60 244.20,345.60" fill="#fff" stroke="#111" stroke-width="1.1" stroke-linejoin="miter"/>
<text x="211.3" y="334.9" font-size="7.0" text-anchor="start" textLength="15.8" lengthAdjust="spacingAndGlyphs" fill="#111" style="stroke-width:0.3px">input</text>
<text x="254.7" y="334.9" font-size="7.0" text-anchor="end" textLength="19.0" lengthAdjust="spacingAndGlyphs" fill="#111" style="stroke-width:0.3px">IP:Tat</text>
<text x="232.3" y="404.6" font-size="8.6" text-anchor="middle" fill="#111">P2</text>
<rect x="257.50" y="348.20" width="45.00" height="13.70" fill="#0b0b0b"/>
<rect x="261.00" y="352.70" width="8.60" height="3.50" rx="1.75" fill="rgb(255,255,255)" filter="url(#glow)"/>
<rect x="261.86" y="353.49" width="6.88" height="1.93" rx="0.96" fill="rgb(255,255,255)" opacity="0.9"/>
<rect x="271.60" y="352.70" width="8.60" height="3.50" rx="1.75" fill="rgb(255,255,255)" filter="url(#glow)"/>
<rect x="272.46" y="353.49" width="6.88" height="1.93" rx="0.96" fill="rgb(255,255,255)" opacity="0.9"/>
<rect x="282.30" y="352.70" width="8.60" height="3.50" rx="1.75" fill="rgb(204,204,204)" filter="url(#glow)"/>
<rect x="283.16" y="353.49" width="6.88" height="1.93" rx="0.96" fill="rgb(204,204,204)" opacity="0.9"/>
<rect x="257.50" y="364.00" width="45.00" height="13.80" fill="#0b0b0b"/>
<rect x="261.00" y="368.15" width="8.60" height="3.50" rx="1.75" fill="rgb(255,255,255)" filter="url(#glow)"/>
<rect x="261.86" y="368.94" width="6.88" height="1.93" rx="0.96" fill="rgb(255,255,255)" opacity="0.9"/>
<rect x="271.60" y="368.15" width="8.60" height="3.50" rx="1.75" fill="rgb(255,255,255)" filter="url(#glow)"/>
<rect x="272.46" y="368.94" width="6.88" height="1.93" rx="0.96" fill="rgb(255,255,255)" opacity="0.9"/>
<rect x="282.30" y="368.15" width="8.60" height="3.50" rx="1.75" fill="rgb(122,122,122)" filter="url(#glow)"/>
<rect x="283.16" y="368.94" width="6.88" height="1.93" rx="0.96" fill="rgb(122,122,122)" opacity="0.9"/>
<rect x="293.10" y="368.15" width="8.60" height="3.50" rx="1.75" fill="rgb(255,255,255)" filter="url(#glow)"/>
<rect x="293.96" y="368.94" width="6.88" height="1.93" rx="0.96" fill="rgb(255,255,255)" opacity="0.9"/>
<rect x="257.50" y="380.00" width="45.00" height="13.80" fill="#0b0b0b"/>
<rect x="261.00" y="385.75" width="8.60" height="3.50" rx="1.75" fill="rgb(255,255,255)" filter="url(#glow)"/>
<rect x="261.86" y="386.54" width="6.88" height="1.93" rx="0.96" fill="rgb(255,255,255)" opacity="0.9"/>
<rect x="271.60" y="385.75" width="8.60" height="3.50" rx="1.75" fill="rgb(255,255,255)" filter="url(#glow)"/>
<rect x="272.46" y="386.54" width="6.88" height="1.93" rx="0.96" fill="rgb(255,255,255)" opacity="0.9"/>
<rect x="282.30" y="385.75" width="8.60" height="3.50" rx="1.75" fill="rgb(255,255,255)" filter="url(#glow)"/>
<rect x="283.16" y="386.54" width="6.88" height="1.93" rx="0.96" fill="rgb(255,255,255)" opacity="0.9"/>
<polygon points="258.00,338.80 258.00,345.60 292.00,345.60" fill="#fff" stroke="#111" stroke-width="1.1" stroke-linejoin="miter"/>
<text x="259.2" y="334.9" font-size="7.0" text-anchor="start" textLength="15.8" lengthAdjust="spacingAndGlyphs" fill="#111" style="stroke-width:0.3px">input</text>
<text x="303.0" y="334.9" font-size="7.0" text-anchor="end" textLength="19.0" lengthAdjust="spacingAndGlyphs" fill="#111" style="stroke-width:0.3px">IP:Tat</text>
<text x="280.0" y="404.6" font-size="8.6" text-anchor="middle" fill="#111">P3</text>
<rect x="307.00" y="348.20" width="44.80" height="13.70" fill="#0b0b0b"/>
<rect x="310.50" y="352.70" width="8.60" height="3.50" rx="1.75" fill="rgb(255,255,255)" filter="url(#glow)"/>
<rect x="311.36" y="353.49" width="6.88" height="1.93" rx="0.96" fill="rgb(255,255,255)" opacity="0.9"/>
<rect x="321.10" y="352.70" width="8.60" height="3.50" rx="1.75" fill="rgb(255,255,255)" filter="url(#glow)"/>
<rect x="321.96" y="353.49" width="6.88" height="1.93" rx="0.96" fill="rgb(255,255,255)" opacity="0.9"/>
<rect x="331.80" y="352.70" width="8.60" height="3.50" rx="1.75" fill="rgb(102,102,102)" filter="url(#glow)"/>
<rect x="332.66" y="353.49" width="6.88" height="1.93" rx="0.96" fill="rgb(102,102,102)" opacity="0.9"/>
<rect x="307.00" y="364.00" width="44.80" height="13.80" fill="#0b0b0b"/>
<rect x="310.50" y="368.15" width="8.60" height="3.50" rx="1.75" fill="rgb(255,255,255)" filter="url(#glow)"/>
<rect x="311.36" y="368.94" width="6.88" height="1.93" rx="0.96" fill="rgb(255,255,255)" opacity="0.9"/>
<rect x="321.10" y="368.15" width="8.60" height="3.50" rx="1.75" fill="rgb(255,255,255)" filter="url(#glow)"/>
<rect x="321.96" y="368.94" width="6.88" height="1.93" rx="0.96" fill="rgb(255,255,255)" opacity="0.9"/>
<rect x="331.80" y="368.15" width="8.60" height="3.50" rx="1.75" fill="rgb(102,102,102)" filter="url(#glow)"/>
<rect x="332.66" y="368.94" width="6.88" height="1.93" rx="0.96" fill="rgb(102,102,102)" opacity="0.9"/>
<rect x="342.60" y="368.15" width="8.60" height="3.50" rx="1.75" fill="rgb(255,255,255)" filter="url(#glow)"/>
<rect x="343.46" y="368.94" width="6.88" height="1.93" rx="0.96" fill="rgb(255,255,255)" opacity="0.9"/>
<rect x="307.00" y="380.00" width="44.80" height="13.80" fill="#0b0b0b"/>
<rect x="310.50" y="385.75" width="8.60" height="3.50" rx="1.75" fill="rgb(255,255,255)" filter="url(#glow)"/>
<rect x="311.36" y="386.54" width="6.88" height="1.93" rx="0.96" fill="rgb(255,255,255)" opacity="0.9"/>
<rect x="321.10" y="385.75" width="8.60" height="3.50" rx="1.75" fill="rgb(255,255,255)" filter="url(#glow)"/>
<rect x="321.96" y="386.54" width="6.88" height="1.93" rx="0.96" fill="rgb(255,255,255)" opacity="0.9"/>
<rect x="331.80" y="385.75" width="8.60" height="3.50" rx="1.75" fill="rgb(229,229,229)" filter="url(#glow)"/>
<rect x="332.66" y="386.54" width="6.88" height="1.93" rx="0.96" fill="rgb(229,229,229)" opacity="0.9"/>
<polygon points="307.50,338.80 307.50,345.60 341.50,345.60" fill="#fff" stroke="#111" stroke-width="1.1" stroke-linejoin="miter"/>
<text x="308.5" y="334.9" font-size="7.0" text-anchor="start" textLength="15.8" lengthAdjust="spacingAndGlyphs" fill="#111" style="stroke-width:0.3px">input</text>
<text x="354.2" y="334.9" font-size="7.0" text-anchor="end" textLength="19.0" lengthAdjust="spacingAndGlyphs" fill="#111" style="stroke-width:0.3px">IP:Tat</text>
<text x="329.4" y="404.6" font-size="8.6" text-anchor="middle" fill="#111">P2</text>
<rect x="354.50" y="348.20" width="45.70" height="13.70" fill="#0b0b0b"/>
<rect x="358.00" y="352.70" width="8.60" height="3.50" rx="1.75" fill="rgb(255,255,255)" filter="url(#glow)"/>
<rect x="358.86" y="353.49" width="6.88" height="1.93" rx="0.96" fill="rgb(255,255,255)" opacity="0.9"/>
<rect x="368.60" y="352.70" width="8.60" height="3.50" rx="1.75" fill="rgb(255,255,255)" filter="url(#glow)"/>
<rect x="369.46" y="353.49" width="6.88" height="1.93" rx="0.96" fill="rgb(255,255,255)" opacity="0.9"/>
<rect x="379.30" y="352.70" width="8.60" height="3.50" rx="1.75" fill="rgb(102,102,102)" filter="url(#glow)"/>
<rect x="380.16" y="353.49" width="6.88" height="1.93" rx="0.96" fill="rgb(102,102,102)" opacity="0.9"/>
<rect x="354.50" y="364.00" width="45.70" height="13.80" fill="#0b0b0b"/>
<rect x="358.00" y="368.15" width="8.60" height="3.50" rx="1.75" fill="rgb(255,255,255)" filter="url(#glow)"/>
<rect x="358.86" y="368.94" width="6.88" height="1.93" rx="0.96" fill="rgb(255,255,255)" opacity="0.9"/>
<rect x="368.60" y="368.15" width="8.60" height="3.50" rx="1.75" fill="rgb(216,216,216)" filter="url(#glow)"/>
<rect x="369.46" y="368.94" width="6.88" height="1.93" rx="0.96" fill="rgb(216,216,216)" opacity="0.9"/>
<rect x="379.30" y="368.15" width="8.60" height="3.50" rx="1.75" fill="rgb(91,91,91)" filter="url(#glow)"/>
<rect x="380.16" y="368.94" width="6.88" height="1.93" rx="0.96" fill="rgb(91,91,91)" opacity="0.9"/>
<rect x="390.10" y="368.15" width="8.60" height="3.50" rx="1.75" fill="rgb(122,122,122)" filter="url(#glow)"/>
<rect x="390.96" y="368.94" width="6.88" height="1.93" rx="0.96" fill="rgb(122,122,122)" opacity="0.9"/>
<rect x="354.50" y="380.00" width="45.70" height="13.80" fill="#0b0b0b"/>
<rect x="358.00" y="385.75" width="8.60" height="3.50" rx="1.75" fill="rgb(255,255,255)" filter="url(#glow)"/>
<rect x="358.86" y="386.54" width="6.88" height="1.93" rx="0.96" fill="rgb(255,255,255)" opacity="0.9"/>
<rect x="368.60" y="385.75" width="8.60" height="3.50" rx="1.75" fill="rgb(255,255,255)" filter="url(#glow)"/>
<rect x="369.46" y="386.54" width="6.88" height="1.93" rx="0.96" fill="rgb(255,255,255)" opacity="0.9"/>
<rect x="379.30" y="385.75" width="8.60" height="3.50" rx="1.75" fill="rgb(255,255,255)" filter="url(#glow)"/>
<rect x="380.16" y="386.54" width="6.88" height="1.93" rx="0.96" fill="rgb(255,255,255)" opacity="0.9"/>
<polygon points="355.00,338.80 355.00,345.60 389.00,345.60" fill="#fff" stroke="#111" stroke-width="1.1" stroke-linejoin="miter"/>
<text x="358.8" y="334.9" font-size="7.0" text-anchor="start" textLength="15.8" lengthAdjust="spacingAndGlyphs" fill="#111" style="stroke-width:0.3px">input</text>
<text x="402.5" y="334.9" font-size="7.0" text-anchor="end" textLength="19.0" lengthAdjust="spacingAndGlyphs" fill="#111" style="stroke-width:0.3px">IP:Tat</text>
<text x="377.35" y="404.6" font-size="8.6" text-anchor="middle" fill="#111">P3</text>
<rect x="403.70" y="348.20" width="44.40" height="13.70" fill="#0b0b0b"/>
<rect x="407.20" y="352.70" width="8.60" height="3.50" rx="1.75" fill="rgb(255,255,255)" filter="url(#glow)"/>
<rect x="408.06" y="353.49" width="6.88" height="1.93" rx="0.96" fill="rgb(255,255,255)" opacity="0.9"/>
<rect x="417.80" y="352.70" width="8.60" height="3.50" rx="1.75" fill="rgb(255,255,255)" filter="url(#glow)"/>
<rect x="418.66" y="353.49" width="6.88" height="1.93" rx="0.96" fill="rgb(255,255,255)" opacity="0.9"/>
<rect x="428.50" y="352.70" width="8.60" height="3.50" rx="1.75" fill="rgb(122,122,122)" filter="url(#glow)"/>
<rect x="429.36" y="353.49" width="6.88" height="1.93" rx="0.96" fill="rgb(122,122,122)" opacity="0.9"/>
<rect x="403.70" y="364.00" width="44.40" height="13.80" fill="#0b0b0b"/>
<rect x="407.20" y="368.15" width="8.60" height="3.50" rx="1.75" fill="rgb(255,255,255)" filter="url(#glow)"/>
<rect x="408.06" y="368.94" width="6.88" height="1.93" rx="0.96" fill="rgb(255,255,255)" opacity="0.9"/>
<rect x="417.80" y="368.15" width="8.60" height="3.50" rx="1.75" fill="rgb(255,255,255)" filter="url(#glow)"/>
<rect x="418.66" y="368.94" width="6.88" height="1.93" rx="0.96" fill="rgb(255,255,255)" opacity="0.9"/>
<rect x="428.50" y="368.15" width="8.60" height="3.50" rx="1.75" fill="rgb(122,122,122)" filter="url(#glow)"/>
<rect x="429.36" y="368.94" width="6.88" height="1.93" rx="0.96" fill="rgb(122,122,122)" opacity="0.9"/>
<rect x="439.30" y="368.15" width="8.60" height="3.50" rx="1.75" fill="rgb(255,255,255)" filter="url(#glow)"/>
<rect x="440.16" y="368.94" width="6.88" height="1.93" rx="0.96" fill="rgb(255,255,255)" opacity="0.9"/>
<rect x="403.70" y="380.00" width="44.40" height="13.80" fill="#0b0b0b"/>
<rect x="407.20" y="385.75" width="8.60" height="3.50" rx="1.75" fill="rgb(255,255,255)" filter="url(#glow)"/>
<rect x="408.06" y="386.54" width="6.88" height="1.93" rx="0.96" fill="rgb(255,255,255)" opacity="0.9"/>
<rect x="417.80" y="385.75" width="8.60" height="3.50" rx="1.75" fill="rgb(255,255,255)" filter="url(#glow)"/>
<rect x="418.66" y="386.54" width="6.88" height="1.93" rx="0.96" fill="rgb(255,255,255)" opacity="0.9"/>
<rect x="428.50" y="385.75" width="8.60" height="3.50" rx="1.75" fill="rgb(229,229,229)" filter="url(#glow)"/>
<rect x="429.36" y="386.54" width="6.88" height="1.93" rx="0.96" fill="rgb(229,229,229)" opacity="0.9"/>
<polygon points="404.20,338.80 404.20,345.60 438.20,345.60" fill="#fff" stroke="#111" stroke-width="1.1" stroke-linejoin="miter"/>
<text x="405.9" y="334.9" font-size="7.0" text-anchor="start" textLength="15.8" lengthAdjust="spacingAndGlyphs" fill="#111" style="stroke-width:0.3px">input</text>
<text x="450.5" y="334.9" font-size="7.0" text-anchor="end" textLength="19.0" lengthAdjust="spacingAndGlyphs" fill="#111" style="stroke-width:0.3px">IP:Tat</text>
<text x="425.9" y="404.6" font-size="8.6" text-anchor="middle" fill="#111">P2</text>
<rect x="451.40" y="348.20" width="45.20" height="13.70" fill="#0b0b0b"/>
<rect x="454.90" y="352.70" width="8.60" height="3.50" rx="1.75" fill="rgb(255,255,255)" filter="url(#glow)"/>
<rect x="455.76" y="353.49" width="6.88" height="1.93" rx="0.96" fill="rgb(255,255,255)" opacity="0.9"/>
<rect x="465.50" y="352.70" width="8.60" height="3.50" rx="1.75" fill="rgb(229,229,229)" filter="url(#glow)"/>
<rect x="466.36" y="353.49" width="6.88" height="1.93" rx="0.96" fill="rgb(229,229,229)" opacity="0.9"/>
<rect x="476.20" y="352.70" width="8.60" height="3.50" rx="1.75" fill="rgb(122,122,122)" filter="url(#glow)"/>
<rect x="477.06" y="353.49" width="6.88" height="1.93" rx="0.96" fill="rgb(122,122,122)" opacity="0.9"/>
<rect x="451.40" y="364.00" width="45.20" height="13.80" fill="#0b0b0b"/>
<rect x="454.90" y="368.15" width="8.60" height="3.50" rx="1.75" fill="rgb(255,255,255)" filter="url(#glow)"/>
<rect x="455.76" y="368.94" width="6.88" height="1.93" rx="0.96" fill="rgb(255,255,255)" opacity="0.9"/>
<rect x="465.50" y="368.15" width="8.60" height="3.50" rx="1.75" fill="rgb(255,255,255)" filter="url(#glow)"/>
<rect x="466.36" y="368.94" width="6.88" height="1.93" rx="0.96" fill="rgb(255,255,255)" opacity="0.9"/>
<rect x="476.20" y="368.15" width="8.60" height="3.50" rx="1.75" fill="rgb(102,102,102)" filter="url(#glow)"/>
<rect x="477.06" y="368.94" width="6.88" height="1.93" rx="0.96" fill="rgb(102,102,102)" opacity="0.9"/>
<rect x="487.00" y="368.15" width="8.60" height="3.50" rx="1.75" fill="rgb(255,255,255)" filter="url(#glow)"/>
<rect x="487.86" y="368.94" width="6.88" height="1.93" rx="0.96" fill="rgb(255,255,255)" opacity="0.9"/>
<rect x="451.40" y="380.00" width="45.20" height="13.80" fill="#0b0b0b"/>
<rect x="454.90" y="385.75" width="8.60" height="3.50" rx="1.75" fill="rgb(255,255,255)" filter="url(#glow)"/>
<rect x="455.76" y="386.54" width="6.88" height="1.93" rx="0.96" fill="rgb(255,255,255)" opacity="0.9"/>
<rect x="465.50" y="385.75" width="8.60" height="3.50" rx="1.75" fill="rgb(204,204,204)" filter="url(#glow)"/>
<rect x="466.36" y="386.54" width="6.88" height="1.93" rx="0.96" fill="rgb(204,204,204)" opacity="0.9"/>
<rect x="476.20" y="385.75" width="8.60" height="3.50" rx="1.75" fill="rgb(102,102,102)" filter="url(#glow)"/>
<rect x="477.06" y="386.54" width="6.88" height="1.93" rx="0.96" fill="rgb(102,102,102)" opacity="0.9"/>
<polygon points="451.90,338.80 451.90,345.60 485.90,345.60" fill="#fff" stroke="#111" stroke-width="1.1" stroke-linejoin="miter"/>
<text x="453.0" y="334.9" font-size="7.0" text-anchor="start" textLength="15.8" lengthAdjust="spacingAndGlyphs" fill="#111" style="stroke-width:0.3px">input</text>
<text x="499.5" y="334.9" font-size="7.0" text-anchor="end" textLength="19.0" lengthAdjust="spacingAndGlyphs" fill="#111" style="stroke-width:0.3px">IP:Tat</text>
<text x="474.0" y="404.6" font-size="8.6" text-anchor="middle" fill="#111">P3</text>
<line x1="211.50" y1="408.50" x2="301.70" y2="408.50" stroke="#000" stroke-width="1.1"/>
<line x1="307.90" y1="408.50" x2="398.30" y2="408.50" stroke="#000" stroke-width="1.1"/>
<line x1="405.60" y1="408.50" x2="495.80" y2="408.50" stroke="#000" stroke-width="1.1"/>
<text x="256.6" y="420.4" font-size="8.4" text-anchor="middle" fill="#111">IRF7</text>
<text x="353.3" y="420.4" font-size="8.4" text-anchor="middle" fill="#111">MAP2K6</text>
<text x="450.7" y="420.4" font-size="8.4" text-anchor="middle" fill="#111">MAP2K3</text>
<text x="209.2" y="358.5" font-size="8.6" text-anchor="end" fill="#111">tTA</text>
<text x="209.6" y="372.9" font-size="8.6" text-anchor="end" fill="#111">Tat<tspan font-size="6.0" dy="1.72">SF2</tspan></text>
<text x="209.6" y="385.6" font-size="8.6" text-anchor="end" fill="#111">Tat<tspan font-size="6.0" dy="1.72">SF2</tspan></text>
<text x="209.4" y="395.1" font-size="8.5" text-anchor="end" fill="#111">G48-R57A</text>
<text x="-0.9" y="457.3" font-size="13" text-anchor="start" font-weight="bold" fill="#111">I</text>
<line x1="30.80" y1="456.00" x2="30.80" y2="545.80" stroke="#000" stroke-width="1.3"/>
<line x1="27.80" y1="456.50" x2="30.80" y2="456.50" stroke="#000" stroke-width="1.3"/>
<text x="24.6" y="459.66799999999995" font-size="8.8" text-anchor="end" fill="#111">10</text>
<line x1="27.80" y1="474.36" x2="30.80" y2="474.36" stroke="#000" stroke-width="1.3"/>
<text x="24.6" y="477.52799999999996" font-size="8.8" text-anchor="end" fill="#111">8</text>
<line x1="27.80" y1="492.22" x2="30.80" y2="492.22" stroke="#000" stroke-width="1.3"/>
<text x="24.6" y="495.388" font-size="8.8" text-anchor="end" fill="#111">6</text>
<line x1="27.80" y1="510.08" x2="30.80" y2="510.08" stroke="#000" stroke-width="1.3"/>
<text x="24.6" y="513.2479999999999" font-size="8.8" text-anchor="end" fill="#111">4</text>
<line x1="27.80" y1="527.94" x2="30.80" y2="527.94" stroke="#000" stroke-width="1.3"/>
<text x="24.6" y="531.108" font-size="8.8" text-anchor="end" fill="#111">2</text>
<line x1="27.80" y1="545.80" x2="30.80" y2="545.80" stroke="#000" stroke-width="1.3"/>
<text x="24.6" y="548.968" font-size="8.8" text-anchor="end" fill="#111">0</text>
<line x1="27.80" y1="545.80" x2="170.90" y2="545.80" stroke="#000" stroke-width="1.3"/>
<line x1="30.80" y1="545.80" x2="30.80" y2="548.80" stroke="#000" stroke-width="1.3"/>
<line x1="53.90" y1="545.80" x2="53.90" y2="548.80" stroke="#000" stroke-width="1.3"/>
<line x1="77.30" y1="545.80" x2="77.30" y2="548.80" stroke="#000" stroke-width="1.3"/>
<line x1="100.70" y1="545.80" x2="100.70" y2="548.80" stroke="#000" stroke-width="1.3"/>
<line x1="124.10" y1="545.80" x2="124.10" y2="548.80" stroke="#000" stroke-width="1.3"/>
<line x1="147.50" y1="545.80" x2="147.50" y2="548.80" stroke="#000" stroke-width="1.3"/>
<line x1="170.90" y1="545.80" x2="170.90" y2="548.80" stroke="#000" stroke-width="1.3"/>
<text x="10.8" y="501.6" font-size="8.6" text-anchor="middle" transform="rotate(-90 10.8 501.6)" fill="#111">fold DNA enrichment</text>
<rect x="34.20" y="542.67" width="5.00" height="3.13" fill="#b2b2b2"/>
<line x1="42.80" y1="514.10" x2="42.80" y2="509.63" stroke="#000" stroke-width="1.15"/>
<line x1="40.55" y1="509.63" x2="45.05" y2="509.63" stroke="#000" stroke-width="1.3224999999999998"/>
<rect x="40.30" y="514.10" width="5.00" height="31.70" fill="#1d1d1d"/>
<line x1="48.90" y1="530.17" x2="48.90" y2="529.28" stroke="#000" stroke-width="1.15"/>
<line x1="46.65" y1="529.28" x2="51.15" y2="529.28" stroke="#000" stroke-width="1.3224999999999998"/>
<rect x="46.40" y="530.17" width="5.00" height="15.63" fill="#6b6b6b"/>
<text x="47.2" y="557.0" font-size="8.7" text-anchor="end" transform="rotate(-40 47.2 557.0)" fill="#111">IRF7 P2</text>
<line x1="60.10" y1="536.87" x2="60.10" y2="536.42" stroke="#000" stroke-width="1.15"/>
<line x1="57.85" y1="536.42" x2="62.35" y2="536.42" stroke="#000" stroke-width="1.3224999999999998"/>
<rect x="57.60" y="536.87" width="5.00" height="8.93" fill="#b2b2b2"/>
<line x1="66.20" y1="474.36" x2="66.20" y2="468.56" stroke="#000" stroke-width="1.15"/>
<line x1="63.95" y1="468.56" x2="68.45" y2="468.56" stroke="#000" stroke-width="1.3224999999999998"/>
<rect x="63.70" y="474.36" width="5.00" height="71.44" fill="#1d1d1d"/>
<rect x="69.80" y="535.80" width="5.00" height="10.00" fill="#6b6b6b"/>
<text x="70.6" y="557.0" font-size="8.7" text-anchor="end" transform="rotate(-40 70.6 557.0)" fill="#111">IRF7 P3</text>
<line x1="83.50" y1="539.55" x2="83.50" y2="537.32" stroke="#000" stroke-width="1.15"/>
<line x1="81.25" y1="537.32" x2="85.75" y2="537.32" stroke="#000" stroke-width="1.3224999999999998"/>
<rect x="81.00" y="539.55" width="5.00" height="6.25" fill="#b2b2b2"/>
<line x1="89.60" y1="528.83" x2="89.60" y2="523.92" stroke="#000" stroke-width="1.15"/>
<line x1="87.35" y1="523.92" x2="91.85" y2="523.92" stroke="#000" stroke-width="1.3224999999999998"/>
<rect x="87.10" y="528.83" width="5.00" height="16.97" fill="#1d1d1d"/>
<line x1="95.70" y1="538.21" x2="95.70" y2="529.28" stroke="#000" stroke-width="1.15"/>
<line x1="93.45" y1="529.28" x2="97.95" y2="529.28" stroke="#000" stroke-width="1.3224999999999998"/>
<rect x="93.20" y="538.21" width="5.00" height="7.59" fill="#6b6b6b"/>
<text x="94.0" y="557.0" font-size="8.7" text-anchor="end" transform="rotate(-40 94.0 557.0)" fill="#111">MAP2K6 P2</text>
<line x1="106.90" y1="540.71" x2="106.90" y2="540.44" stroke="#000" stroke-width="1.15"/>
<line x1="104.65" y1="540.44" x2="109.15" y2="540.44" stroke="#000" stroke-width="1.3224999999999998"/>
<rect x="104.40" y="540.71" width="5.00" height="5.09" fill="#b2b2b2"/>
<line x1="113.00" y1="490.43" x2="113.00" y2="485.08" stroke="#000" stroke-width="1.15"/>
<line x1="110.75" y1="485.08" x2="115.25" y2="485.08" stroke="#000" stroke-width="1.3224999999999998"/>
<rect x="110.50" y="490.43" width="5.00" height="55.37" fill="#1d1d1d"/>
<line x1="119.10" y1="544.46" x2="119.10" y2="543.84" stroke="#000" stroke-width="1.15"/>
<line x1="116.85" y1="543.84" x2="121.35" y2="543.84" stroke="#000" stroke-width="1.3224999999999998"/>
<rect x="116.60" y="544.46" width="5.00" height="1.34" fill="#6b6b6b"/>
<text x="117.39999999999999" y="557.0" font-size="8.7" text-anchor="end" transform="rotate(-40 117.39999999999999 557.0)" fill="#111">MAP2K6 P3</text>
<line x1="130.30" y1="535.26" x2="130.30" y2="532.85" stroke="#000" stroke-width="1.15"/>
<line x1="128.05" y1="532.85" x2="132.55" y2="532.85" stroke="#000" stroke-width="1.3224999999999998"/>
<rect x="127.80" y="535.26" width="5.00" height="10.54" fill="#b2b2b2"/>
<line x1="136.40" y1="514.99" x2="136.40" y2="510.97" stroke="#000" stroke-width="1.15"/>
<line x1="134.15" y1="510.97" x2="138.65" y2="510.97" stroke="#000" stroke-width="1.3224999999999998"/>
<rect x="133.90" y="514.99" width="5.00" height="30.81" fill="#1d1d1d"/>
<rect x="140.00" y="529.73" width="5.00" height="16.07" fill="#6b6b6b"/>
<text x="140.8" y="557.0" font-size="8.7" text-anchor="end" transform="rotate(-40 140.8 557.0)" fill="#111">MAP2K3 P2</text>
<rect x="151.20" y="536.69" width="5.00" height="9.11" fill="#b2b2b2"/>
<line x1="159.80" y1="520.80" x2="159.80" y2="517.67" stroke="#000" stroke-width="1.15"/>
<line x1="157.55" y1="517.67" x2="162.05" y2="517.67" stroke="#000" stroke-width="1.3224999999999998"/>
<rect x="157.30" y="520.80" width="5.00" height="25.00" fill="#1d1d1d"/>
<rect x="163.40" y="536.69" width="5.00" height="9.11" fill="#6b6b6b"/>
<text x="164.2" y="557.0" font-size="8.7" text-anchor="end" transform="rotate(-40 164.2 557.0)" fill="#111">MAP2K3 P3</text>
<rect x="92.60" y="455.90" width="3.80" height="3.80" fill="#b2b2b2"/>
<text x="98.19999999999999" y="460.0" font-size="9.0" text-anchor="start" fill="#111">tTA</text>
<rect x="92.60" y="464.60" width="3.80" height="3.80" fill="#1d1d1d"/>
<text x="98.19999999999999" y="468.7" font-size="9.0" text-anchor="start" fill="#111">Tat<tspan font-size="6.0" dy="2.70">SF2</tspan></text>
<rect x="92.60" y="473.50" width="3.80" height="3.80" fill="#6b6b6b"/>
<text x="98.19999999999999" y="477.6" font-size="9.0" text-anchor="start" fill="#111">Tat<tspan font-size="6.0" dy="2.70">SF2</tspan><tspan dy="-2.70" font-size="8.55">G48R57A</tspan></text>
<text x="191.9" y="457.3" font-size="13" text-anchor="start" font-weight="bold" fill="#111">J</text>
<line x1="224.40" y1="454.50" x2="224.40" y2="545.90" stroke="#000" stroke-width="1.3"/>
<line x1="221.40" y1="455.00" x2="224.40" y2="455.00" stroke="#000" stroke-width="1.3"/>
<text x="217.8" y="458.132" font-size="8.7" text-anchor="end" fill="#111">6</text>
<line x1="221.40" y1="485.30" x2="224.40" y2="485.30" stroke="#000" stroke-width="1.3"/>
<text x="217.8" y="488.43199999999996" font-size="8.7" text-anchor="end" fill="#111">4</text>
<line x1="221.40" y1="515.60" x2="224.40" y2="515.60" stroke="#000" stroke-width="1.3"/>
<text x="217.8" y="518.732" font-size="8.7" text-anchor="end" fill="#111">2</text>
<line x1="221.40" y1="545.90" x2="224.40" y2="545.90" stroke="#000" stroke-width="1.3"/>
<text x="217.8" y="549.0319999999999" font-size="8.7" text-anchor="end" fill="#111">0</text>
<line x1="221.40" y1="545.90" x2="355.50" y2="545.90" stroke="#000" stroke-width="1.3"/>
<line x1="224.40" y1="545.90" x2="224.40" y2="548.90" stroke="#000" stroke-width="1.3"/>
<line x1="268.60" y1="545.90" x2="268.60" y2="548.90" stroke="#000" stroke-width="1.3"/>
<line x1="312.00" y1="545.90" x2="312.00" y2="548.90" stroke="#000" stroke-width="1.3"/>
<line x1="355.50" y1="545.90" x2="355.50" y2="548.90" stroke="#000" stroke-width="1.3"/>
<text x="198.5" y="500.8" font-size="8.4" text-anchor="middle" transform="rotate(-90 198.5 500.8)" fill="#111">Luciferase</text>
<text x="207.6" y="500.8" font-size="8.4" text-anchor="middle" transform="rotate(-90 207.6 500.8)" fill="#111">(fold induction)</text>
<rect x="235.00" y="531.20" width="7.10" height="14.70" fill="#b2b2b2"/>
<line x1="246.70" y1="475.45" x2="246.70" y2="464.09" stroke="#000" stroke-width="1.15"/>
<line x1="244.20" y1="464.09" x2="249.20" y2="464.09" stroke="#000" stroke-width="1.3224999999999998"/>
<rect x="243.15" y="475.45" width="7.10" height="70.45" fill="#1d1d1d"/>
<line x1="254.85" y1="518.93" x2="254.85" y2="514.54" stroke="#000" stroke-width="1.15"/>
<line x1="252.35" y1="514.54" x2="257.35" y2="514.54" stroke="#000" stroke-width="1.3224999999999998"/>
<rect x="251.30" y="518.93" width="7.10" height="26.97" fill="#6b6b6b"/>
<rect x="278.70" y="530.75" width="7.10" height="15.15" fill="#b2b2b2"/>
<line x1="290.40" y1="498.93" x2="290.40" y2="489.09" stroke="#000" stroke-width="1.15"/>
<line x1="287.90" y1="489.09" x2="292.90" y2="489.09" stroke="#000" stroke-width="1.3224999999999998"/>
<rect x="286.85" y="498.93" width="7.10" height="46.97" fill="#1d1d1d"/>
<line x1="298.55" y1="531.96" x2="298.55" y2="527.72" stroke="#000" stroke-width="1.15"/>
<line x1="296.05" y1="527.72" x2="301.05" y2="527.72" stroke="#000" stroke-width="1.3224999999999998"/>
<rect x="295.00" y="531.96" width="7.10" height="13.94" fill="#6b6b6b"/>
<rect x="322.10" y="530.75" width="7.10" height="15.15" fill="#b2b2b2"/>
<line x1="333.80" y1="491.06" x2="333.80" y2="483.03" stroke="#000" stroke-width="1.15"/>
<line x1="331.30" y1="483.03" x2="336.30" y2="483.03" stroke="#000" stroke-width="1.3224999999999998"/>
<rect x="330.25" y="491.06" width="7.10" height="54.84" fill="#1d1d1d"/>
<line x1="341.95" y1="527.11" x2="341.95" y2="521.66" stroke="#000" stroke-width="1.15"/>
<line x1="339.45" y1="521.66" x2="344.45" y2="521.66" stroke="#000" stroke-width="1.3224999999999998"/>
<rect x="338.40" y="527.11" width="7.10" height="18.79" fill="#6b6b6b"/>
<text x="246.6" y="559.2" font-size="8.7" text-anchor="middle" fill="#111">IRF7</text>
<text x="290.5" y="559.2" font-size="8.7" text-anchor="middle" fill="#111">MAP2K6</text>
<text x="334.3" y="559.2" font-size="8.7" text-anchor="middle" fill="#111">MAP2K3</text>
<rect x="284.40" y="454.10" width="3.80" height="3.80" fill="#b2b2b2"/>
<text x="289.8" y="458.2" font-size="9.0" text-anchor="start" fill="#111">tTA</text>
<rect x="284.40" y="461.90" width="3.80" height="3.80" fill="#1d1d1d"/>
<text x="289.8" y="466.0" font-size="9.0" text-anchor="start" fill="#111">Tat<tspan font-size="6.0" dy="2.70">SF2</tspan></text>
<rect x="284.40" y="470.90" width="3.80" height="3.80" fill="#6b6b6b"/>
<text x="289.8" y="475.0" font-size="9.0" text-anchor="start" fill="#111">Tat<tspan font-size="6.0" dy="2.70">SF2</tspan><tspan dy="-2.70" font-size="8.55">G48R57A</tspan></text>
<polyline points="495.6,18.6 507.5,18.6 507.5,277.4 496.3,277.4" fill="none" stroke="#000" stroke-width="1.25"/>
<text x="512.0" y="143.2" font-size="10.5" text-anchor="middle" transform="rotate(90 512.0 143.2)" fill="#111">KG-iDC</text>
<polyline points="495.8,314.6 507.8,314.6 507.8,574.4 496,574.4" fill="none" stroke="#000" stroke-width="1.25"/>
<text x="512.0" y="441.6" font-size="10.5" text-anchor="middle" transform="rotate(90 512.0 441.6)" fill="#111">THP-Mac</text>
</g></svg></body></html>
